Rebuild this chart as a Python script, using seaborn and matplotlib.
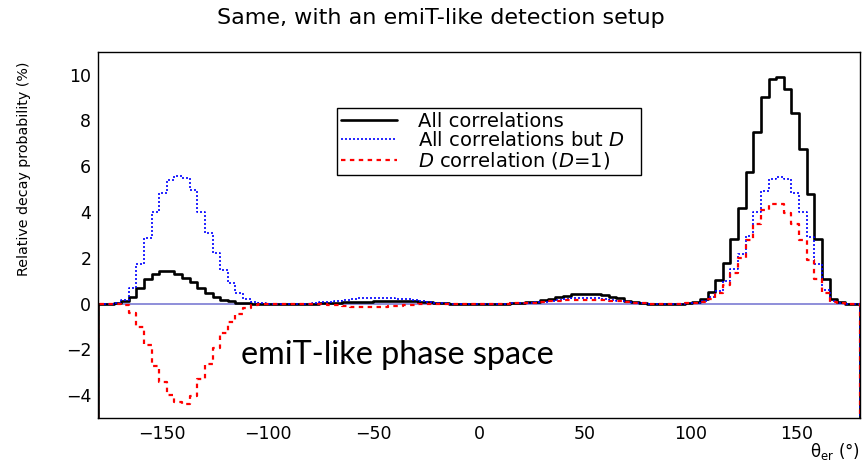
import numpy as np
import pandas as pd
import matplotlib.pyplot as plt
import seaborn as sns
from matplotlib.lines import Line2D
from matplotlib.ticker import MultipleLocator

# 100 bins from -180 to 180 deg
edges = np.linspace(-180, 180, 101)

# relative decay probability (%) per bin
all_corr = [0.00, 0.00, 0.01, 0.09, 0.30, 0.70, 1.06, 1.29, 1.43, 1.43,
            1.29, 1.12, 0.93, 0.70, 0.45, 0.30, 0.16, 0.09, 0.04, 0.02,
            0.00, 0.00, 0.00, 0.00, 0.00, 0.00, 0.00, 0.00, 0.00, 0.01,
            0.02, 0.03, 0.05, 0.05, 0.06, 0.08, 0.10, 0.11, 0.12, 0.12,
            0.11, 0.09, 0.07, 0.05, 0.03, 0.01, 0.00, 0.00, 0.00, 0.00,
            0.00, 0.00, 0.00, 0.00, 0.02, 0.04, 0.07, 0.08, 0.15, 0.21,
            0.28, 0.34, 0.41, 0.43, 0.43, 0.41, 0.36, 0.30, 0.23, 0.12,
            0.05, 0.02, 0.00, 0.00, 0.00, 0.00, 0.00, 0.02, 0.05, 0.18,
            0.49, 1.02, 1.78, 2.84, 4.19, 5.74, 7.49, 9.01, 9.81, 9.91,
            9.37, 8.32, 6.76, 4.80, 2.80, 1.07, 0.18, 0.05, 0.00, 0.00]

all_but_d = [0.00, 0.00, 0.02, 0.15, 0.70, 1.72, 2.88, 4.00, 4.84, 5.41,
             5.59, 5.50, 4.97, 4.00, 3.09, 2.22, 1.46, 0.88, 0.48, 0.20,
             0.06, 0.02, 0.00, 0.00, 0.00, 0.00, 0.00, 0.00, 0.02, 0.05,
             0.08, 0.11, 0.16, 0.20, 0.23, 0.25, 0.26, 0.26, 0.24, 0.21,
             0.18, 0.14, 0.10, 0.07, 0.04, 0.02, 0.00, 0.00, 0.00, 0.00,
             0.00, 0.00, 0.00, 0.00, 0.01, 0.02, 0.04, 0.05, 0.08, 0.12,
             0.16, 0.20, 0.24, 0.26, 0.26, 0.24, 0.21, 0.17, 0.13, 0.07,
             0.03, 0.01, 0.00, 0.00, 0.00, 0.00, 0.00, 0.01, 0.03, 0.10,
             0.27, 0.55, 0.98, 1.50, 2.18, 2.95, 4.00, 4.91, 5.45, 5.55,
             5.42, 4.85, 3.99, 2.90, 1.72, 0.60, 0.11, 0.03, 0.00, 0.00]

d_corr = [0.00, 0.00, -0.01, -0.06, -0.40, -1.02, -1.82, -2.71, -3.41, -3.98,
          -4.30, -4.38, -4.04, -3.30, -2.64, -1.92, -1.30, -0.79, -0.44, -0.18,
          -0.06, -0.02, 0.00, 0.00, 0.00, 0.00, 0.00, 0.00, -0.02, -0.04,
          -0.06, -0.08, -0.11, -0.15, -0.17, -0.17, -0.16, -0.15, -0.12, -0.09,
          -0.07, -0.05, -0.03, -0.02, -0.01, -0.01, 0.00, 0.00, 0.00, 0.00,
          0.00, 0.00, 0.00, 0.00, 0.01, 0.02, 0.03, 0.03, 0.07, 0.09,
          0.12, 0.14, 0.17, 0.17, 0.17, 0.17, 0.15, 0.13, 0.10, 0.05,
          0.02, 0.01, 0.00, 0.00, 0.00, 0.00, 0.00, 0.01, 0.02, 0.08,
          0.22, 0.47, 0.80, 1.34, 2.01, 2.79, 3.49, 4.10, 4.36, 4.36,
          3.95, 3.47, 2.77, 1.90, 1.08, 0.47, 0.07, 0.02, 0.00, 0.00]

labels = ['All correlations', 'All correlations but $D$', '$D$ correlation ($D$=1)']

sns.set_style('white')
plt.rcParams['font.family'] = ['DejaVu Sans']
plt.rcParams['mathtext.fontset'] = 'dejavusans'
plt.rcParams['text.color'] = 'black'
plt.rcParams['axes.labelcolor'] = 'black'
plt.rcParams['xtick.color'] = 'black'
plt.rcParams['ytick.color'] = 'black'

ymin, ymax = -5, 11


def step_frame(vals, name):
    # histogram outline, edges dropping to the frame bottom like ROOT does
    x = np.concatenate([[edges[0]], edges, [edges[-1]]])
    y = np.concatenate([[ymin], vals, [vals[-1], ymin]])
    return pd.DataFrame({'theta': x, 'prob': y, 'series': name})


fig = plt.figure(figsize=(8.63, 4.62), dpi=100)
ax = fig.add_axes([0.1139, 0.0952, 0.8826, 0.7928])

ax.axhline(0, color='#7070d0', lw=1.1, zorder=1)

styles = [
    dict(color='black', lw=1.9, linestyle='-'),
    dict(color='blue', lw=1.2, linestyle=(0, (1.2, 1.2))),
    dict(color='red', lw=1.6, linestyle=(0, (2, 2))),
]
for vals, name, st in zip([all_corr, all_but_d, d_corr], labels, styles):
    df = step_frame(np.array(vals), name)
    sns.lineplot(data=df, x='theta', y='prob', estimator=None, sort=False,
                 drawstyle='steps-post', ax=ax, legend=False, zorder=2, **st)

ax.set_xlim(-180, 180)
ax.set_ylim(ymin, ymax)
ax.xaxis.set_major_locator(MultipleLocator(50))
ax.xaxis.set_minor_locator(MultipleLocator(10))
ax.yaxis.set_major_locator(MultipleLocator(2))
ax.yaxis.set_minor_locator(MultipleLocator(0.5))
ax.tick_params(axis='both', which='both', direction='in', labelsize=12.5,
               top=False, right=False, color='black', labelcolor='black')
ax.tick_params(axis='x', which='major', length=8, width=1, pad=5)
ax.tick_params(axis='x', which='minor', length=4, width=0.8)
ax.tick_params(axis='y', which='major', length=16.5, width=1, pad=5)
ax.tick_params(axis='y', which='minor', length=8.2, width=0.8)
for sp in ax.spines.values():
    sp.set_color('black')
    sp.set_linewidth(1)

ax.set_xlabel('θ$_{\\rm er}$ (°)', fontsize=12, loc='right')
ax.xaxis.set_label_coords(1.0, -0.062)
ax.set_ylabel('Relative decay probability (%)', fontsize=10.3, loc='top')
ax.yaxis.set_label_coords(-0.088, 0.973)

handles = [Line2D([], [], **st) for st in styles]
leg = ax.legend(handles, labels, loc='lower left',
                bbox_to_anchor=(0.313, 0.663, 0.40, 0.189), mode='expand',
                borderaxespad=0, fancybox=False, framealpha=1,
                edgecolor='black', fontsize=14, handlelength=2.9,
                handletextpad=1.1, labelspacing=0.0, borderpad=0.2)
leg.get_frame().set_linewidth(1)

ax.text(-112.5, -2.24, 'emiT-like phase space', fontfamily='Lato',
        fontsize=23.3, va='center', ha='left')

fig.text(441 / 863, 1 - 18 / 462, 'Same, with an emiT-like detection setup',
         fontsize=16, ha='center', va='center')

fig.savefig('out.png', dpi=100)
